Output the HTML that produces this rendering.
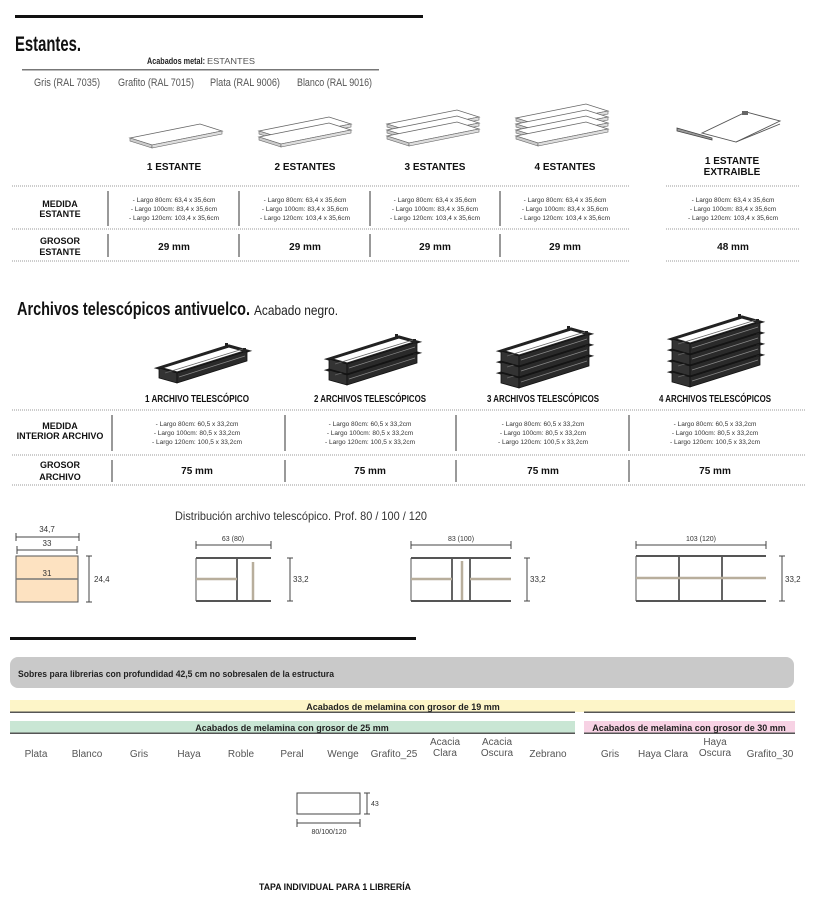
<!DOCTYPE html>
<html><head><meta charset="utf-8"><style>
html,body{margin:0;padding:0;background:#fff;width:818px;height:910px;overflow:hidden}
svg{display:block}
text{font-family:"Liberation Sans Narrow","Liberation Sans",sans-serif}
.b{font-weight:bold}
</style></head><body>
<svg width="818" height="910" viewBox="0 0 818 910" xmlns="http://www.w3.org/2000/svg">
<defs>
 <g id="shelf">
  <polygon points="0,14 70,0 92,7 22,21" fill="#fff" stroke="#666" stroke-width="0.8"/>
  <polygon points="0,14 22,21 22,24 0,17" fill="#ccc" stroke="#666" stroke-width="0.6"/>
  <polygon points="22,21 92,7 92,10 22,24" fill="#ddd" stroke="#666" stroke-width="0.6"/>
 </g>
 <g id="drawer">
  <polygon points="0,22 70,0 88,5 18,27" fill="#fff" stroke="#222" stroke-width="3"/>
  <polygon points="0,22 18,27 18,37 0,32" fill="#333" stroke="#111" stroke-width="0.8"/>
  <polygon points="18,27 88,5 88,15 18,37" fill="#2a2a2a" stroke="#111" stroke-width="0.8"/>
  <line x1="20" y1="31" x2="86" y2="10" stroke="#888" stroke-width="0.7"/>
  <line x1="6" y1="27" x2="84" y2="3" stroke="#666" stroke-width="0.8"/>
  <rect x="66" y="-3" width="3" height="5" fill="#222"/>
  <rect x="84" y="2" width="3" height="5" fill="#222"/>
 </g>
</defs>

<!-- Estantes section -->
<rect x="15" y="15" width="408" height="3" fill="#111"/>
<text x="15" y="51" class="b" font-size="21" textLength="66" lengthAdjust="spacingAndGlyphs" fill="#111">Estantes.</text>
<text x="147" y="64" font-size="9" class="b" fill="#222" textLength="58" lengthAdjust="spacingAndGlyphs">Acabados metal:</text>
<text x="207" y="64" font-size="8" fill="#555" textLength="48" lengthAdjust="spacingAndGlyphs">ESTANTES</text>
<rect x="22" y="69" width="357" height="1.5" fill="#777"/>
<g font-size="11" fill="#555">
<text x="34" y="86" textLength="66" lengthAdjust="spacingAndGlyphs">Gris (RAL 7035)</text>
<text x="118" y="86" textLength="76" lengthAdjust="spacingAndGlyphs">Grafito (RAL 7015)</text>
<text x="210" y="86" textLength="70" lengthAdjust="spacingAndGlyphs">Plata (RAL 9006)</text>
<text x="297" y="86" textLength="75" lengthAdjust="spacingAndGlyphs">Blanco (RAL 9016)</text>
</g>

<use href="#shelf" x="130" y="124"/>
<use href="#shelf" x="259" y="117"/><use href="#shelf" x="259" y="123"/>
<use href="#shelf" x="387" y="110"/><use href="#shelf" x="387" y="116"/><use href="#shelf" x="387" y="122"/>
<use href="#shelf" x="516" y="104"/><use href="#shelf" x="516" y="110"/><use href="#shelf" x="516" y="116"/><use href="#shelf" x="516" y="122"/>
<!-- extraible -->
<polygon points="702,133 746,112 780,121 736,142" fill="#fff" stroke="#555" stroke-width="0.9"/>
<line x1="736" y1="142" x2="780" y2="124" stroke="#555" stroke-width="0.9"/>
<polygon points="677,128 712,138 712,140 677,131" fill="#999" stroke="#444" stroke-width="0.8"/>
<rect x="742" y="111" width="6" height="4" fill="#666"/>

<g class="b" font-size="10" fill="#111" text-anchor="middle">
<text x="174" y="170">1 ESTANTE</text>
<text x="305" y="170">2 ESTANTES</text>
<text x="435" y="170">3 ESTANTES</text>
<text x="565" y="170">4 ESTANTES</text>
<text x="732" y="164">1 ESTANTE</text>
<text x="732" y="175">EXTRAIBLE</text>
</g>
<g stroke="#999" stroke-width="1" stroke-dasharray="1,1">
<line x1="12" y1="186" x2="630" y2="186"/><line x1="666" y1="186" x2="800" y2="186"/>
<line x1="12" y1="229" x2="630" y2="229"/><line x1="666" y1="229" x2="800" y2="229"/>
<line x1="12" y1="261" x2="630" y2="261"/><line x1="666" y1="261" x2="800" y2="261"/>
</g>
<g stroke="#555" stroke-width="1.2">
<line x1="108" y1="191" x2="108" y2="226"/><line x1="239" y1="191" x2="239" y2="226"/><line x1="370" y1="191" x2="370" y2="226"/><line x1="500" y1="191" x2="500" y2="226"/>
<line x1="108" y1="234" x2="108" y2="257"/><line x1="239" y1="234" x2="239" y2="257"/><line x1="370" y1="234" x2="370" y2="257"/><line x1="500" y1="234" x2="500" y2="257"/>
</g>
<g class="b" font-size="9" fill="#111" text-anchor="middle">
<text x="60" y="207">MEDIDA</text><text x="60" y="217">ESTANTE</text>
<text x="60" y="244">GROSOR</text><text x="60" y="255">ESTANTE</text>
</g>
<g font-size="6.5" fill="#333" text-anchor="middle">
<text x="174" y="202">- Largo 80cm: 63,4 x 35,6cm</text><text x="174" y="211">- Largo 100cm: 83,4 x 35,6cm</text><text x="174" y="220">- Largo 120cm: 103,4 x 35,6cm</text>
<text x="305" y="202">- Largo 80cm: 63,4 x 35,6cm</text><text x="305" y="211">- Largo 100cm: 83,4 x 35,6cm</text><text x="305" y="220">- Largo 120cm: 103,4 x 35,6cm</text>
<text x="435" y="202">- Largo 80cm: 63,4 x 35,6cm</text><text x="435" y="211">- Largo 100cm: 83,4 x 35,6cm</text><text x="435" y="220">- Largo 120cm: 103,4 x 35,6cm</text>
<text x="565" y="202">- Largo 80cm: 63,4 x 35,6cm</text><text x="565" y="211">- Largo 100cm: 83,4 x 35,6cm</text><text x="565" y="220">- Largo 120cm: 103,4 x 35,6cm</text>
<text x="733" y="202">- Largo 80cm: 63,4 x 35,6cm</text><text x="733" y="211">- Largo 100cm: 83,4 x 35,6cm</text><text x="733" y="220">- Largo 120cm: 103,4 x 35,6cm</text>
</g>
<g class="b" font-size="10" fill="#111" text-anchor="middle">
<text x="174" y="250">29 mm</text><text x="305" y="250">29 mm</text><text x="435" y="250">29 mm</text><text x="565" y="250">29 mm</text><text x="733" y="250">48 mm</text>
</g>

<!-- Archivos -->
<text x="17" y="315" class="b" font-size="18" fill="#111" textLength="233" lengthAdjust="spacingAndGlyphs">Archivos telescópicos antivuelco.</text>
<text x="254" y="315" font-size="14" fill="#222" textLength="84" lengthAdjust="spacingAndGlyphs">Acabado negro.</text>

<use href="#drawer" x="159" y="346"/>
<use href="#drawer" x="329" y="348"/><use href="#drawer" x="329" y="337"/>
<use href="#drawer" x="501" y="351"/><use href="#drawer" x="501" y="340"/><use href="#drawer" x="501" y="329"/>
<use href="#drawer" x="672" y="350"/><use href="#drawer" x="672" y="339"/><use href="#drawer" x="672" y="328"/><use href="#drawer" x="672" y="317"/>

<g class="b" font-size="10" fill="#111" text-anchor="middle">
<text x="197" y="402" textLength="104" lengthAdjust="spacingAndGlyphs">1 ARCHIVO TELESCÓPICO</text>
<text x="370" y="402" textLength="112" lengthAdjust="spacingAndGlyphs">2 ARCHIVOS TELESCÓPICOS</text>
<text x="543" y="402" textLength="112" lengthAdjust="spacingAndGlyphs">3 ARCHIVOS TELESCÓPICOS</text>
<text x="715" y="402" textLength="112" lengthAdjust="spacingAndGlyphs">4 ARCHIVOS TELESCÓPICOS</text>
</g>
<g stroke="#999" stroke-width="1" stroke-dasharray="1,1">
<line x1="12" y1="410" x2="805" y2="410"/><line x1="12" y1="455" x2="805" y2="455"/><line x1="12" y1="485" x2="805" y2="485"/>
</g>
<g stroke="#555" stroke-width="1.2">
<line x1="112" y1="415" x2="112" y2="451"/><line x1="285" y1="415" x2="285" y2="451"/><line x1="456" y1="415" x2="456" y2="451"/><line x1="629" y1="415" x2="629" y2="451"/>
<line x1="112" y1="460" x2="112" y2="482"/><line x1="285" y1="460" x2="285" y2="482"/><line x1="456" y1="460" x2="456" y2="482"/><line x1="629" y1="460" x2="629" y2="482"/>
</g>
<g class="b" font-size="9" fill="#111" text-anchor="middle">
<text x="60" y="429">MEDIDA</text><text x="60" y="439">INTERIOR ARCHIVO</text>
<text x="60" y="468">GROSOR</text><text x="60" y="480">ARCHIVO</text>
</g>
<g font-size="6.5" fill="#333" text-anchor="middle">
<text x="197" y="426">- Largo 80cm: 60,5 x 33,2cm</text><text x="197" y="435">- Largo 100cm: 80,5 x 33,2cm</text><text x="197" y="444">- Largo 120cm: 100,5 x 33,2cm</text>
<text x="370" y="426">- Largo 80cm: 60,5 x 33,2cm</text><text x="370" y="435">- Largo 100cm: 80,5 x 33,2cm</text><text x="370" y="444">- Largo 120cm: 100,5 x 33,2cm</text>
<text x="543" y="426">- Largo 80cm: 60,5 x 33,2cm</text><text x="543" y="435">- Largo 100cm: 80,5 x 33,2cm</text><text x="543" y="444">- Largo 120cm: 100,5 x 33,2cm</text>
<text x="715" y="426">- Largo 80cm: 60,5 x 33,2cm</text><text x="715" y="435">- Largo 100cm: 80,5 x 33,2cm</text><text x="715" y="444">- Largo 120cm: 100,5 x 33,2cm</text>
</g>
<g class="b" font-size="10" fill="#111" text-anchor="middle">
<text x="197" y="474">75 mm</text><text x="370" y="474">75 mm</text><text x="543" y="474">75 mm</text><text x="715" y="474">75 mm</text>
</g>

<!-- Distribucion -->
<text x="175" y="520" font-size="12" fill="#333" textLength="252" lengthAdjust="spacingAndGlyphs">Distribución archivo telescópico. Prof. 80 / 100 / 120</text>
<g stroke="#444" stroke-width="1" fill="none">
 <line x1="16" y1="537" x2="79" y2="537"/><line x1="16" y1="533" x2="16" y2="541"/><line x1="79" y1="533" x2="79" y2="541"/>
 <line x1="17" y1="550" x2="77" y2="550"/><line x1="17" y1="546" x2="17" y2="554"/><line x1="77" y1="546" x2="77" y2="554"/>
 <line x1="89" y1="556" x2="89" y2="602"/><line x1="86" y1="556" x2="92" y2="556"/><line x1="86" y1="602" x2="92" y2="602"/>
</g>
<text x="47" y="532" font-size="8" text-anchor="middle" fill="#333">34,7</text>
<text x="47" y="546" font-size="8" text-anchor="middle" fill="#333">33</text>
<text x="94" y="582" font-size="8" fill="#333">24,4</text>
<rect x="16" y="556" width="62" height="46" fill="#fde2c1" stroke="#555" stroke-width="1"/>
<line x1="16" y1="579" x2="78" y2="579" stroke="#777" stroke-width="1.5"/>
<text x="47" y="576" font-size="8" text-anchor="middle" fill="#333">31</text>

<!-- drawer 1 -->
<g stroke="#444" stroke-width="1" fill="none">
 <line x1="196" y1="545" x2="271" y2="545"/><line x1="196" y1="541" x2="196" y2="549"/><line x1="271" y1="541" x2="271" y2="549"/>
 <line x1="290" y1="558" x2="290" y2="601"/><line x1="287" y1="558" x2="293" y2="558"/><line x1="287" y1="601" x2="293" y2="601"/>
 <line x1="411" y1="545" x2="511" y2="545"/><line x1="411" y1="541" x2="411" y2="549"/><line x1="511" y1="541" x2="511" y2="549"/>
 <line x1="527" y1="558" x2="527" y2="601"/><line x1="524" y1="558" x2="530" y2="558"/><line x1="524" y1="601" x2="530" y2="601"/>
 <line x1="636" y1="545" x2="766" y2="545"/><line x1="636" y1="541" x2="636" y2="549"/><line x1="766" y1="541" x2="766" y2="549"/>
 <line x1="782" y1="556" x2="782" y2="601"/><line x1="779" y1="556" x2="785" y2="556"/><line x1="779" y1="601" x2="785" y2="601"/>
</g>
<text x="233" y="541" font-size="7" text-anchor="middle" fill="#333">63 (80)</text>
<text x="461" y="541" font-size="7" text-anchor="middle" fill="#333">83 (100)</text>
<text x="701" y="541" font-size="7" text-anchor="middle" fill="#333">103 (120)</text>
<text x="293" y="582" font-size="8" fill="#333">33,2</text>
<text x="530" y="582" font-size="8" fill="#333">33,2</text>
<text x="785" y="582" font-size="8" fill="#333">33,2</text>

<g fill="none">
 <line x1="196" y1="558" x2="196" y2="601" stroke="#555" stroke-width="1"/>
 <line x1="196" y1="558" x2="271" y2="558" stroke="#555" stroke-width="2"/>
 <line x1="196" y1="601" x2="271" y2="601" stroke="#555" stroke-width="2"/>
 <line x1="237" y1="559" x2="237" y2="600" stroke="#111" stroke-width="1.3"/>
 <line x1="253" y1="562" x2="253" y2="600" stroke="#b8ae9c" stroke-width="2.5"/>
 <line x1="196" y1="579" x2="237" y2="579" stroke="#b8ae9c" stroke-width="2.5"/>

 <line x1="411" y1="558" x2="411" y2="601" stroke="#555" stroke-width="1"/>
 <line x1="411" y1="558" x2="511" y2="558" stroke="#555" stroke-width="2"/>
 <line x1="411" y1="601" x2="511" y2="601" stroke="#555" stroke-width="2"/>
 <line x1="452" y1="559" x2="452" y2="600" stroke="#111" stroke-width="1.3"/>
 <line x1="462" y1="561" x2="462" y2="600" stroke="#b8ae9c" stroke-width="2.5"/>
 <line x1="470" y1="559" x2="470" y2="600" stroke="#111" stroke-width="1.3"/>
 <line x1="411" y1="579" x2="452" y2="579" stroke="#b8ae9c" stroke-width="2.5"/>
 <line x1="470" y1="579" x2="511" y2="579" stroke="#b8ae9c" stroke-width="2.5"/>

 <line x1="636" y1="556" x2="636" y2="601" stroke="#555" stroke-width="1"/>
 <line x1="636" y1="556" x2="766" y2="556" stroke="#555" stroke-width="2"/>
 <line x1="636" y1="601" x2="766" y2="601" stroke="#555" stroke-width="2"/>
 <line x1="679" y1="557" x2="679" y2="600" stroke="#111" stroke-width="1.3"/>
 <line x1="722" y1="557" x2="722" y2="600" stroke="#111" stroke-width="1.3"/>
 <line x1="636" y1="578" x2="766" y2="578" stroke="#b8ae9c" stroke-width="2.5"/>
</g>

<!-- Sobres -->
<rect x="10" y="637" width="406" height="3" fill="#111"/>
<rect x="10" y="657" width="784" height="31" rx="8" fill="#c9c9c9"/>
<text x="18" y="677" class="b" font-size="9" fill="#222" textLength="316" lengthAdjust="spacingAndGlyphs">Sobres para librerias con profundidad 42,5 cm no sobresalen de la estructura</text>

<rect x="10" y="700" width="785" height="12" fill="#fdf5c8"/>
<rect x="10" y="711.5" width="565" height="1.5" fill="#555"/>
<rect x="584" y="711.5" width="211" height="1.5" fill="#555"/>
<text x="403" y="710" class="b" font-size="9" text-anchor="middle" fill="#222">Acabados de melamina con grosor de 19 mm</text>
<rect x="10" y="721" width="565" height="12" fill="#c9e6d4"/>
<rect x="584" y="721" width="211" height="12" fill="#f7d2e4"/>
<rect x="10" y="732.5" width="565" height="1.5" fill="#555"/>
<rect x="584" y="732.5" width="211" height="1.5" fill="#555"/>
<text x="292" y="731" class="b" font-size="9" text-anchor="middle" fill="#222">Acabados de melamina con grosor de 25 mm</text>
<text x="689" y="731" class="b" font-size="9" text-anchor="middle" fill="#222">Acabados de melamina con grosor de 30 mm</text>

<g font-size="10" fill="#555" text-anchor="middle">
<text x="36" y="757">Plata</text><text x="87" y="757">Blanco</text><text x="139" y="757">Gris</text><text x="189" y="757">Haya</text>
<text x="241" y="757">Roble</text><text x="292" y="757">Peral</text><text x="343" y="757">Wenge</text><text x="394" y="757">Grafito_25</text>
<text x="445" y="745">Acacia</text><text x="445" y="756">Clara</text>
<text x="497" y="745">Acacia</text><text x="497" y="756">Oscura</text>
<text x="548" y="757">Zebrano</text><text x="610" y="757">Gris</text><text x="663" y="757">Haya Clara</text>
<text x="715" y="745">Haya</text><text x="715" y="756">Oscura</text><text x="770" y="757">Grafito_30</text>
</g>

<rect x="297" y="793" width="63" height="21" fill="#fff" stroke="#444" stroke-width="1"/>
<g stroke="#444" stroke-width="1">
<line x1="367" y1="793" x2="367" y2="814"/><line x1="364" y1="793" x2="370" y2="793"/><line x1="364" y1="814" x2="370" y2="814"/>
<line x1="297" y1="823" x2="360" y2="823"/><line x1="297" y1="819" x2="297" y2="827"/><line x1="360" y1="819" x2="360" y2="827"/>
</g>
<text x="371" y="806" font-size="7" fill="#333">43</text>
<text x="329" y="834" font-size="7" text-anchor="middle" fill="#333">80/100/120</text>
<text x="335" y="890" class="b" font-size="9" text-anchor="middle" fill="#111" textLength="152" lengthAdjust="spacingAndGlyphs">TAPA INDIVIDUAL PARA 1 LIBRERÍA</text>
</svg>
</body></html>
